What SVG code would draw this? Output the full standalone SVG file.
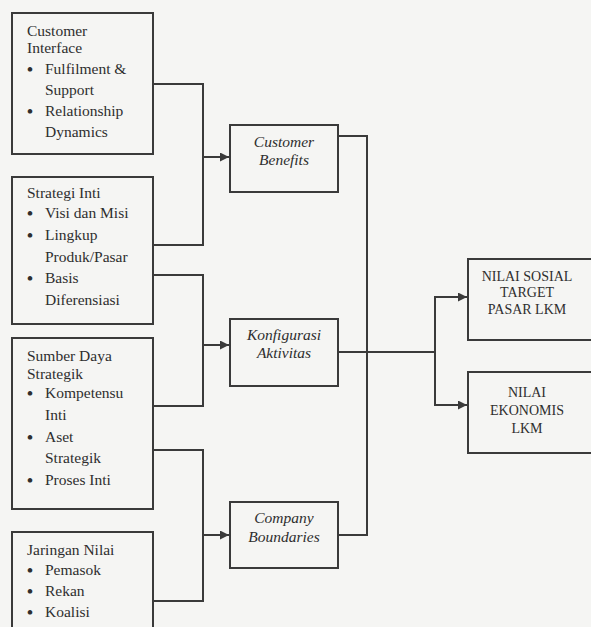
<svg xmlns="http://www.w3.org/2000/svg" width="591" height="627" viewBox="0 0 591 627">
<style>
.bg{fill:#f5f5f3}
.box{fill:none;stroke:#3a3a3a;stroke-width:2}
.ln{fill:none;stroke:#3a3a3a;stroke-width:2}
.t{font-family:"Liberation Serif","Times New Roman",serif;font-size:15.5px;fill:#2e2e2e}
.b{font-family:"Liberation Serif","Times New Roman",serif;font-size:17px;font-weight:bold;fill:#2e2e2e}
.i{font-family:"Liberation Serif","Times New Roman",serif;font-size:15.5px;font-style:italic;fill:#2e2e2e;text-anchor:middle}
.c{font-family:"Liberation Serif","Times New Roman",serif;font-size:14px;fill:#2e2e2e;text-anchor:middle}
</style>
<defs>
<marker id="ah" viewBox="0 0 10 10" refX="10" refY="5" markerWidth="5" markerHeight="4.5" orient="auto" markerUnits="strokeWidth">
<path d="M0,0 L10,5 L0,10 z" fill="#3a3a3a"/>
</marker>
</defs>
<rect class="bg" x="0" y="0" width="591" height="627"/>

<g id="customer-interface">
<rect class="box" x="12" y="13" width="141" height="141"/>
<text class="t" x="27" y="36">Customer</text>
<text class="t" x="27" y="53">Interface</text>
<text class="b" x="27" y="75">•</text><text class="t" x="45" y="74">Fulfilment &amp;</text>
<text class="t" x="45" y="95">Support</text>
<text class="b" x="27" y="117">•</text><text class="t" x="45" y="116">Relationship</text>
<text class="t" x="45" y="137">Dynamics</text>
</g>

<g id="strategi-inti">
<rect class="box" x="12" y="177" width="141" height="147"/>
<text class="t" x="27" y="198">Strategi  Inti</text>
<text class="b" x="27" y="219">•</text><text class="t" x="45" y="218">Visi dan Misi</text>
<text class="b" x="27" y="241">•</text><text class="t" x="45" y="240">Lingkup</text>
<text class="t" x="45" y="262">Produk/Pasar</text>
<text class="b" x="27" y="284">•</text><text class="t" x="45" y="283">Basis</text>
<text class="t" x="45" y="305">Diferensiasi</text>
</g>

<g id="sumber-daya">
<rect class="box" x="12" y="338" width="141" height="171"/>
<text class="t" x="27" y="361">Sumber Daya</text>
<text class="t" x="27" y="379">Strategik</text>
<text class="b" x="27" y="399">•</text><text class="t" x="45" y="398">Kompetensu</text>
<text class="t" x="45" y="420">Inti</text>
<text class="b" x="27" y="443">•</text><text class="t" x="45" y="442">Aset</text>
<text class="t" x="45" y="463">Strategik</text>
<text class="b" x="27" y="486">•</text><text class="t" x="45" y="485">Proses Inti</text>
</g>

<g id="jaringan-nilai">
<rect class="box" x="12" y="532" width="141" height="110"/>
<text class="t" x="27" y="555">Jaringan Nilai</text>
<text class="b" x="27" y="576">•</text><text class="t" x="45" y="575">Pemasok</text>
<text class="b" x="27" y="597">•</text><text class="t" x="45" y="596">Rekan</text>
<text class="b" x="27" y="618">•</text><text class="t" x="45" y="617">Koalisi</text>
</g>

<g id="customer-benefits">
<rect class="box" x="230" y="125" width="108" height="67"/>
<text class="i" x="284" y="147">Customer</text>
<text class="i" x="284" y="165">Benefits</text>
</g>

<g id="konfigurasi-aktivitas">
<rect class="box" x="230" y="319" width="108" height="67"/>
<text class="i" x="284" y="340">Konfigurasi</text>
<text class="i" x="284" y="358">Aktivitas</text>
</g>

<g id="company-boundaries">
<rect class="box" x="230" y="502" width="108" height="66"/>
<text class="i" x="284" y="523">Company</text>
<text class="i" x="284" y="542">Boundaries</text>
</g>

<g id="nilai-sosial">
<rect class="box" x="468" y="259" width="130" height="81"/>
<text class="c" x="527" y="281">NILAI SOSIAL</text>
<text class="c" x="527" y="297">TARGET</text>
<text class="c" x="527" y="314">PASAR LKM</text>
</g>

<g id="nilai-ekonomis">
<rect class="box" x="468" y="372" width="130" height="81"/>
<text class="c" x="527" y="397">NILAI</text>
<text class="c" x="527" y="415">EKONOMIS</text>
<text class="c" x="527" y="433">LKM</text>
</g>

<g id="connectors">
<polyline class="ln" points="153,84 203,84 203,245 153,245"/>
<line class="ln" x1="203" y1="157" x2="229" y2="157" marker-end="url(#ah)"/>
<polyline class="ln" points="153,275 203,275 203,406 153,406"/>
<line class="ln" x1="203" y1="345" x2="229" y2="345" marker-end="url(#ah)"/>
<polyline class="ln" points="153,450 203,450 203,601 153,601"/>
<line class="ln" x1="203" y1="535" x2="229" y2="535" marker-end="url(#ah)"/>
<polyline class="ln" points="338,136 367,136 367,535 338,535"/>
<line class="ln" x1="338" y1="352" x2="435" y2="352"/>
<polyline class="ln" points="467,297 435,297 435,405 467,405"/>
<line class="ln" x1="440" y1="297" x2="467" y2="297" marker-end="url(#ah)"/>
<line class="ln" x1="440" y1="405" x2="467" y2="405" marker-end="url(#ah)"/>
</g>
</svg>
